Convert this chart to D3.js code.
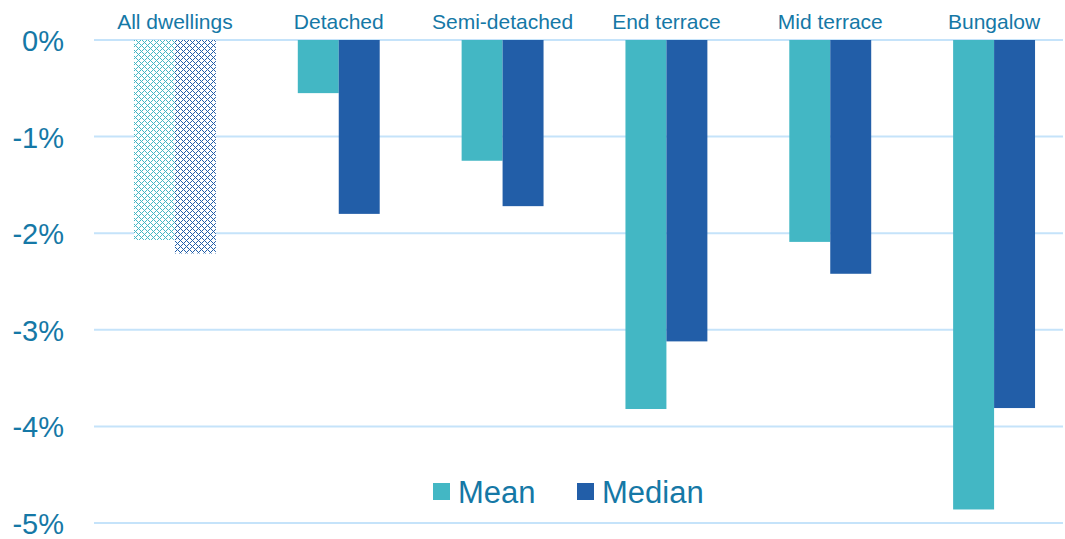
<!DOCTYPE html>
<html><head><meta charset="utf-8">
<script src="https://cdn.jsdelivr.net/npm/d3@7"></script>
<style>body{margin:0;background:#fff}svg{display:block}text{font-family:"Liberation Sans",Arial,sans-serif}</style>
</head><body>
<svg id="c" width="1065" height="539"></svg>
<script>
const categories = ["All dwellings","Detached","Semi-detached","End terrace","Mid terrace","Bungalow"];
const seriesNames = ["Mean","Median"];
const meanValues = [-2.07,-0.55,-1.25,-3.82,-2.09,-4.86];
const medianValues = [-2.21,-1.80,-1.72,-3.12,-2.42,-3.81];
const yTicks = [0,-1,-2,-3,-4,-5];
const colors = ["#43B7C4","#225EA8"];
const textColor = "#1578A6";

const svg = d3.select("#c");
const x = d3.scaleBand().domain(categories).range([93,1076]).paddingInner(0.5).paddingOuter(0.25);
const xs = d3.scaleBand().domain(seriesNames).range([0, x.bandwidth()]);
const y = d3.scaleLinear().domain([0,-5]).range([40,523]);

const defs = svg.append("defs");
colors.forEach((c,i)=>{
  const p = defs.append("pattern").attr("id","pat"+i).attr("patternUnits","userSpaceOnUse").attr("width",6).attr("height",6);
  p.append("rect").attr("width",6).attr("height",6).attr("fill","#fff");
  [[0,0],[3,3],[1,1],[2,2],[4,4],[5,5],[1,5],[2,4],[4,2],[5,1]].forEach(([a,b])=>{
    p.append("rect").attr("x",a).attr("y",b).attr("width",1).attr("height",1).attr("fill",c);
  });
});

// grid
svg.append("g").selectAll("line").data(yTicks).join("line")
  .attr("x1",94).attr("x2",1063).attr("y1",d=>y(d)).attr("y2",d=>y(d))
  .attr("stroke","#C5E3FA").attr("stroke-width",2);

// y labels
svg.append("g").selectAll("text").data(yTicks).join("text")
  .attr("x",64).attr("y",d=>y(d)+11).attr("text-anchor","end")
  .attr("font-size",29).attr("fill",textColor).text(d=>d+"%");

// category labels
svg.append("g").selectAll("text").data(categories).join("text")
  .attr("x",d=>x(d)+x.bandwidth()/2).attr("y",29).attr("text-anchor","middle")
  .attr("font-size",21).attr("fill",textColor).text(d=>d);

const data = categories.map((c,i)=>({c, vals:[meanValues[i],medianValues[i]]}));
const g = svg.append("g");
data.forEach((d,ci)=>{
  d.vals.forEach((v,si)=>{
    g.append("rect")
      .attr("x", x(d.c)+xs(seriesNames[si]))
      .attr("y", y(0))
      .attr("width", xs.bandwidth())
      .attr("height", y(v)-y(0))
      .attr("fill", ci===0 ? "url(#pat"+si+")" : colors[si]);
  });
});

// legend
const leg = svg.append("g");
const legX = [433,577];
seriesNames.forEach((s,i)=>{
  leg.append("rect").attr("x",legX[i]).attr("y",483).attr("width",17).attr("height",17).attr("fill",colors[i]);
  leg.append("text").attr("x",legX[i]+25).attr("y",503).attr("font-size",31).attr("fill",textColor).text(s);
});
</script>
</body></html>
